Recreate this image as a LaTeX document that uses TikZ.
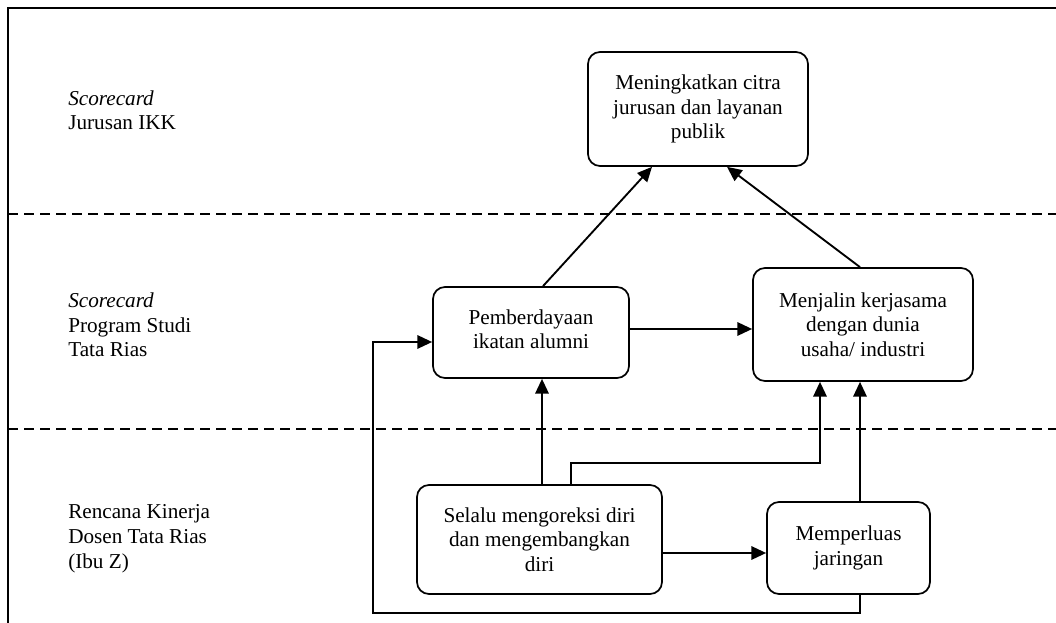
\documentclass[tikz,border=0pt]{standalone}
\usepackage{fontspec}
\setmainfont{Liberation Serif}
\usetikzlibrary{arrows.meta}
\begin{document}
\begin{tikzpicture}[x=0.75pt,y=-0.75pt,
  every node/.style={font=\fontsize{15.9}{18.4}\selectfont},
  goalbox/.style={draw, line width=1.3pt, rounded corners=9pt, align=center, inner sep=0pt},
  lbl/.style={align=left, anchor=base west, inner sep=0pt},
  arr/.style={line width=1.4pt, -{Triangle[length=11pt,width=10pt]}},
  sep/.style={line width=1.3pt, dash pattern=on 7.5pt off 4.5pt},
  frame/.style={line width=1.3pt}]
\useasboundingbox (0,0) rectangle (1056,623);
% frame
\draw[frame] (1056,8) -- (8,8) -- (8,623);
\draw[sep] (8,214) -- (1056,214);
\draw[sep] (8,429) -- (1056,429);
% left labels (anchored at the baseline of the last line)
\node[lbl] (l1) at (68,130) {\textit{Scorecard}\\Jurusan IKK};
\node[lbl] (l2) at (68,357) {\textit{Scorecard}\\Program Studi\\Tata Rias};
\node[lbl] (l3) at (68,568) {Rencana Kinerja\\Dosen Tata Rias\\(Ibu Z)};
% boxes
\node[goalbox, minimum width=165pt, minimum height=85.5pt] (top) at (698,109) {Meningkatkan citra\\jurusan dan layanan\\publik};
\node[goalbox, minimum width=147pt, minimum height=68.25pt, text depth=5pt] (pemb) at (531,332.5) {Pemberdayaan\\ikatan alumni};
\node[goalbox, minimum width=165pt, minimum height=84.75pt] (menj) at (863,324.5) {Menjalin kerjasama\\dengan dunia\\usaha/ industri};
\node[goalbox, minimum width=183.75pt, minimum height=81.75pt] (selalu) at (539.5,539.5) {Selalu mengoreksi diri\\dan mengembangkan\\diri};
\node[goalbox, minimum width=122.25pt, minimum height=69pt] (memp) at (848.5,548) {Memperluas\\jaringan};
% routing coordinates
\coordinate (pt1) at (543,0);
\coordinate (pt2) at (652,0);
\coordinate (mt1) at (860,0);
\coordinate (mt2) at (727,0);
\coordinate (yPM) at (0,329);
\coordinate (xSP) at (542,0);
\coordinate (xSM) at (571,0);
\coordinate (kSM) at (820,463);
\coordinate (xMM) at (860,0);
\coordinate (ySM) at (0,553);
\coordinate (fb1) at (860,613);
\coordinate (fb2) at (373,342);
% connectors
\draw[arr] (pemb.north -| pt1) -- (top.south -| pt2);
\draw[arr] (menj.north -| mt1) -- (top.south -| mt2);
\draw[arr] (pemb.east |- yPM) -- (menj.west |- yPM);
\draw[arr] (selalu.north -| xSP) -- (pemb.south -| xSP);
\draw[arr] (selalu.north -| xSM) |- (kSM) -- (menj.south -| kSM);
\draw[arr] (memp.north -| xMM) -- (menj.south -| xMM);
\draw[arr] (selalu.east |- ySM) -- (memp.west |- ySM);
\draw[arr] (memp.south -| fb1) -- (fb1) -| (fb2) -- (pemb.west |- fb2);
\end{tikzpicture}
\end{document}
